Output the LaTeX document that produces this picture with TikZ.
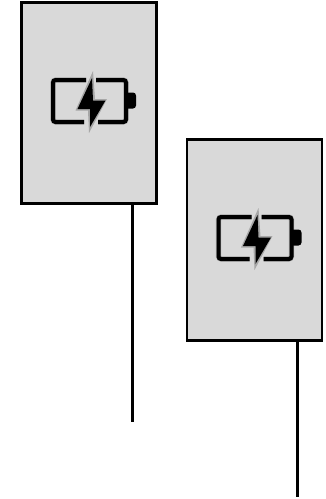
\documentclass[tikz,border=0pt]{standalone}
\definecolor{panelgrey}{HTML}{D9D9D9}
\definecolor{halogrey}{HTML}{A6A6A6}
\tikzset{
  panel/.style={draw=black,fill=panelgrey,line width=2.4pt,minimum width=135pt,minimum height=201pt,inner sep=0pt,outer sep=0pt,anchor=north west},
  wire/.style={draw=black,line width=2.4pt},
  battstroke/.style={line width=4pt,draw=black,rounded corners=2.5pt,line cap=butt},
  batthalo/.style={line width=5.4pt,draw=halogrey,rounded corners=3pt,line cap=butt}
}
\newcommand{\batticon}[2]{%
  \begin{scope}[shift={(#1,#2)}]
    \foreach \st in {batthalo,battstroke}{
      \draw[\st] (86,80) -- (53,80) -- (53,122) -- (84,122);
      \draw[\st] (96,80) -- (126,80) -- (126,122) -- (98,122);
    }
    \fill[black,rounded corners=3pt] (125,92.5) -- (136,92.5) -- (136,108.5) -- (125,108.5) -- cycle;
    \fill[halogrey] (93,71) -- (75.5,110.5) -- (88,110.5) -- (89,133) -- (107,99) -- (95,99) -- cycle;
    \fill[black] (92,78) -- (77.5,109) -- (90,109) -- (90,127) -- (105.5,100.5) -- (93,100.5) -- cycle;
  \end{scope}}
\begin{document}
\begin{tikzpicture}[x=1pt,y=-1pt]
  \useasboundingbox (0,0) rectangle (325,499);
  \fill[white] (0,0) rectangle (325,499);
  \coordinate (end1) at (132.5,422);
  \coordinate (end2) at (297.5,497);
  \node[panel] (box1) at (21.5,2.5) {};
  \node[panel] (box2) at (187,139.5) {};
  \draw[wire] (box1.south -| end1) -- (end1);
  \draw[wire] (box2.south -| end2) -- (end2);
  \batticon{0}{0}
  \batticon{165.5}{137}
\end{tikzpicture}
\end{document}
